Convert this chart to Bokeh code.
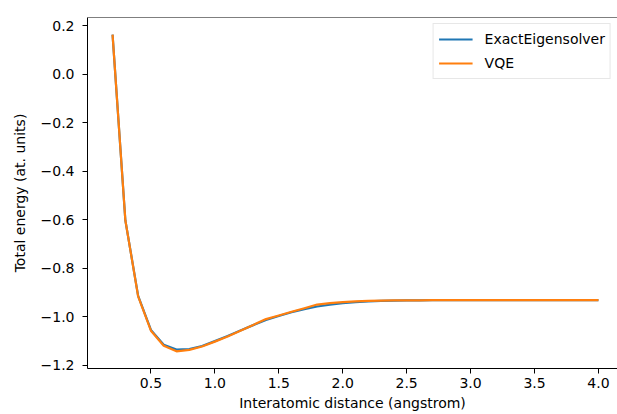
from bokeh.plotting import figure
from bokeh.models import Range1d, FixedTicker, Legend, LegendItem, Span
from bokeh.embed import file_html
from bokeh.resources import INLINE

distance = [0.2, 0.3, 0.4, 0.5, 0.6, 0.7, 0.8, 0.9, 1.0, 1.1, 1.2, 1.3, 1.4,
            1.5, 1.6, 1.7, 1.8, 1.9, 2.0, 2.1, 2.2, 2.3, 2.4, 2.5, 2.6, 2.7,
            2.8, 2.9, 3.0, 3.1, 3.2, 3.3, 3.4, 3.5, 3.6, 3.7, 3.8, 3.9, 4.0]
exact_energy = [0.164, -0.602, -0.914, -1.055, -1.116, -1.136, -1.134, -1.121,
                -1.101, -1.080, -1.057, -1.035, -1.014, -0.997, -0.982, -0.969,
                -0.958, -0.950, -0.944, -0.940, -0.937, -0.935, -0.934, -0.933,
                -0.933, -0.932, -0.932, -0.932, -0.932, -0.932, -0.932, -0.932,
                -0.932, -0.932, -0.932, -0.932, -0.932, -0.932, -0.932]
vqe_energy = [0.164, -0.602, -0.916, -1.058, -1.120, -1.143, -1.137, -1.123,
              -1.103, -1.082, -1.058, -1.034, -1.010, -0.995, -0.980, -0.965,
              -0.950, -0.944, -0.940, -0.937, -0.935, -0.934, -0.933, -0.933,
              -0.933, -0.932, -0.932, -0.932, -0.932, -0.932, -0.932, -0.932,
              -0.932, -0.932, -0.932, -0.932, -0.932, -0.932, -0.932]

x_ticks = [0.5, 1.0, 1.5, 2.0, 2.5, 3.0, 3.5, 4.0]
y_ticks = [-1.2, -1.0, -0.8, -0.6, -0.4, -0.2, 0.0, 0.2]
y_tick_labels = ["\u22121.2", "\u22121.0", "\u22120.8", "\u22120.6", "\u22120.4", "\u22120.2", "0.0", "0.2"]

FONT = "DejaVu Sans"
FS = "14px"

p = figure(width=617, height=414, output_backend="svg", toolbar_location=None,
           x_range=Range1d(0.004, 4.149), y_range=Range1d(-1.214, 0.235),
           min_border_left=87, min_border_right=0, min_border_top=17, min_border_bottom=46)
p.background_fill_color = "white"
p.border_fill_color = "white"
p.outline_line_color = None
p.xgrid.visible = False
p.ygrid.visible = False

r1 = p.line(distance, exact_energy, line_color="#1f77b4", line_width=2.2)
r2 = p.line(distance, vqe_energy, line_color="#ff7f0e", line_width=2.2)

p.add_layout(Span(location=0.235, dimension="width", line_color="black", line_width=1))

for ax in (p.xaxis[0], p.yaxis[0]):
    ax.axis_line_color = "black"
    ax.axis_line_width = 1
    ax.major_tick_line_color = "black"
    ax.major_tick_line_width = 1
    ax.major_tick_out = 5
    ax.major_tick_in = 0
    ax.minor_tick_line_color = None
    ax.major_label_text_font = FONT
    ax.major_label_text_font_size = FS
    ax.major_label_text_color = "black"
    ax.axis_label_text_font = FONT
    ax.axis_label_text_font_size = FS
    ax.axis_label_text_font_style = "normal"
    ax.axis_label_text_color = "black"

p.xaxis.ticker = FixedTicker(ticks=x_ticks)
p.yaxis.ticker = FixedTicker(ticks=y_ticks)
p.yaxis.major_label_overrides = {t: l for t, l in zip(y_ticks, y_tick_labels)}
p.xaxis.major_label_overrides = {t: f"{t:.1f}" for t in x_ticks}
p.xaxis.axis_label = "Interatomic distance (angstrom)"
p.yaxis.axis_label = "Total energy (at. units)"
p.xaxis.major_label_standoff = 4
p.xaxis.axis_label_standoff = 4
p.yaxis.major_label_standoff = 8
p.yaxis.axis_label_standoff = 10

legend = Legend(items=[LegendItem(label="ExactEigensolver", renderers=[r1]),
                       LegendItem(label="VQE", renderers=[r2])],
                location="top_right", margin=6, padding=5, spacing=4,
                glyph_width=34, glyph_height=20, label_height=20, label_standoff=12,
                label_text_font=FONT, label_text_font_size=FS, label_text_color="black",
                border_line_color="#d0d0d0", border_line_width=1,
                background_fill_color="white", background_fill_alpha=0.8)
p.add_layout(legend)

open("out.html", "w").write(file_html(p, INLINE))
